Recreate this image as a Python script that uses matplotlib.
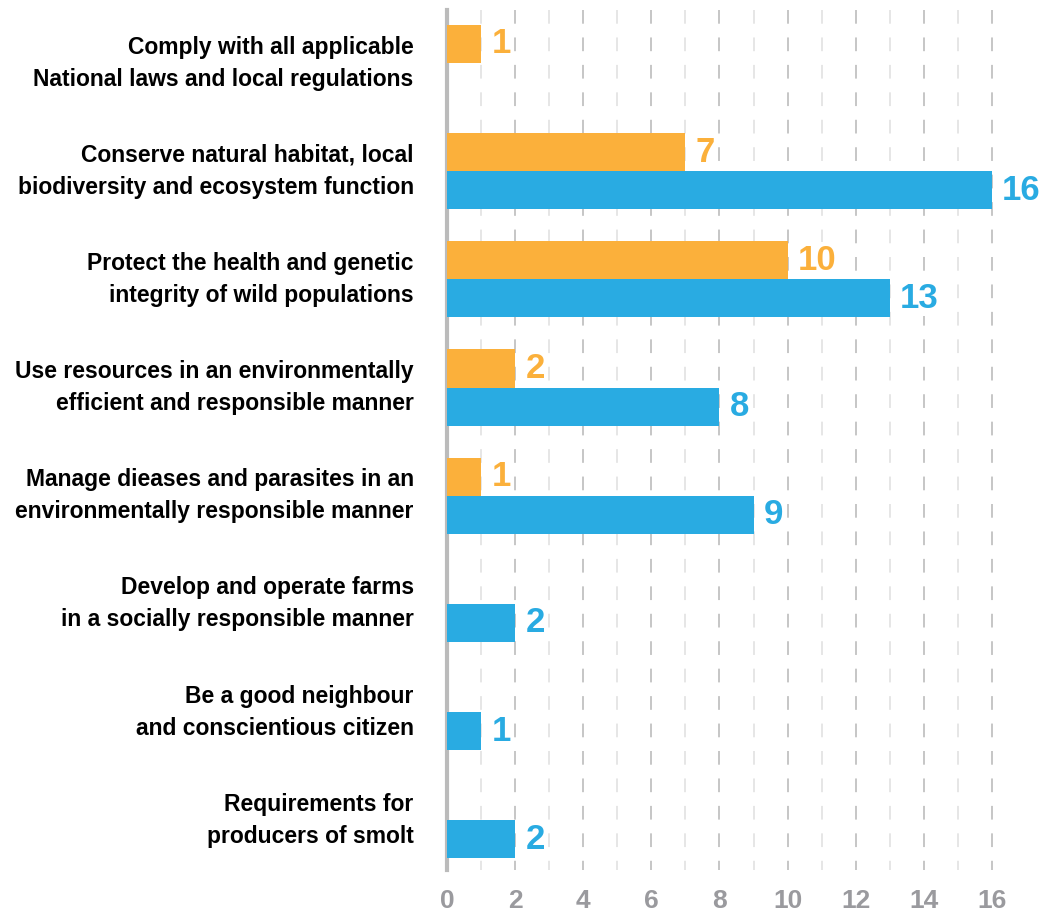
import matplotlib.pyplot as plt

# categories (top to bottom)
categories = [
    "Comply with all applicable\nNational laws and local regulations",
    "Conserve natural habitat, local\nbiodiversity and ecosystem function",
    "Protect the health and genetic\nintegrity of wild populations",
    "Use resources in an environmentally\nefficient and responsible manner",
    "Manage dieases and parasites in an\nenvironmentally responsible manner",
    "Develop and operate farms\nin a socially responsible manner",
    "Be a good neighbour\nand conscientious citizen",
    "Requirements for\nproducers of smolt",
]
orange_vals = [1, 7, 10, 2, 1, None, None, None]
blue_vals = [None, 16, 13, 8, 9, 2, 1, 2]
xticks = [0, 2, 4, 6, 8, 10, 12, 14, 16]

orange = "#FBB03B"
blue = "#29ABE2"

plt.rcParams['font.family'] = ['Liberation Sans', 'DejaVu Sans']

fig = plt.figure(figsize=(10.39, 9.13), dpi=100)
ax = fig.add_axes([447/1039, 1-870/913, 1-447/1039, (870-10)/913])

ytop, ybot = -0.49, 7.46
h = 0.352
lbl_box = dict(facecolor='white', edgecolor='none', pad=1)
for i in range(len(categories)):
    if orange_vals[i] is not None:
        ax.barh(i - h/2, orange_vals[i], height=h, color=orange, zorder=3)
        ax.text(orange_vals[i] + 0.3, i - h/2, str(orange_vals[i]), color=orange,
                fontsize=25, fontweight='bold', va='center', ha='left', zorder=4, bbox=lbl_box)
    if blue_vals[i] is not None:
        ax.barh(i + h/2, blue_vals[i], height=h, color=blue, zorder=3)
        ax.text(blue_vals[i] + 0.3, i + h/2, str(blue_vals[i]), color=blue,
                fontsize=25, fontweight='bold', va='center', ha='left', zorder=4, bbox=lbl_box)

# dashed grid, lighter at odd values, dashes start at the top
for v in range(1, 17):
    c = "#c2c2c2" if v % 2 == 0 else "#e4e4e4"
    ax.plot([v, v], [ytop, ybot], color=c, lw=1.3, ls=(0, (7.6, 7.6)), zorder=1)

ax.set_xlim(0, 17.38)
ax.set_ylim(ybot, ytop)
ax.set_yticks(range(len(categories)))
ax.set_yticklabels(categories, fontsize=16.5, fontweight='bold', linespacing=1.5, va='center')
ax.set_xticks(xticks)
ax.set_xticklabels([str(t) for t in xticks], fontsize=19, fontweight='bold', color="#9a9a9e")
ax.tick_params(axis='both', length=0)
ax.tick_params(axis='x', pad=14)
ax.tick_params(axis='y', pad=24)
for s in ['top', 'right', 'bottom']:
    ax.spines[s].set_visible(False)
ax.spines['left'].set_color("#bbbbbb")
ax.spines['left'].set_linewidth(3)

fig.savefig("out.png", dpi=100)
